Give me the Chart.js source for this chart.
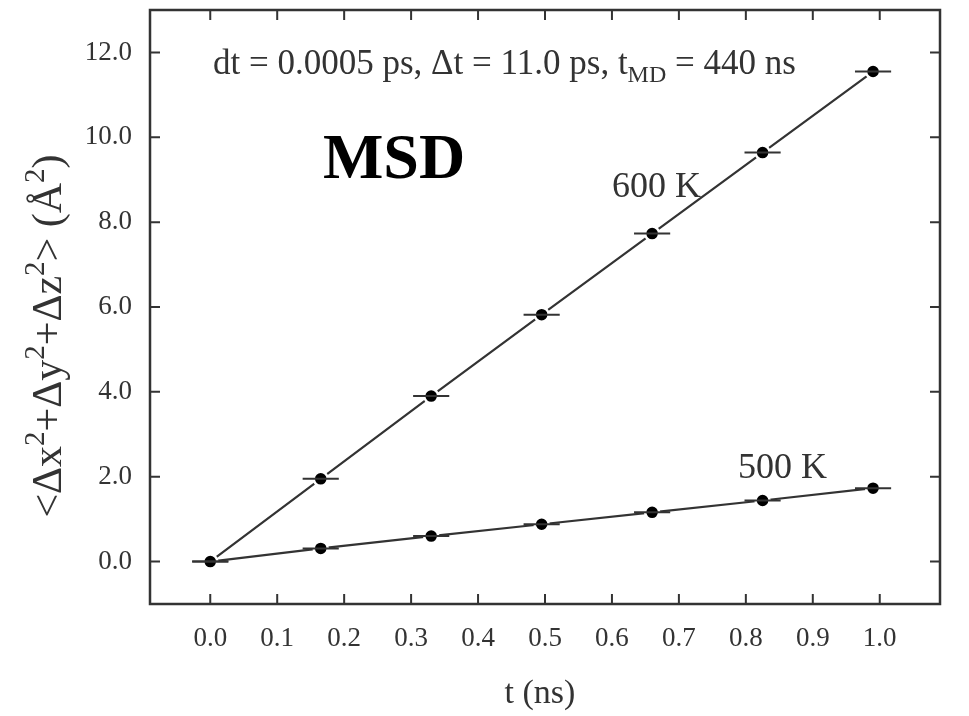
<!DOCTYPE html>
<html>
<head>
<meta charset="utf-8">
<script src="https://cdn.jsdelivr.net/npm/chart.js@4"></script>
<style>
  html, body { margin: 0; padding: 0; background: #fff; }
  #wrap { width: 969px; height: 716px; }
</style>
</head>
<body>
<div id="wrap"><canvas id="msd"></canvas></div>
<script>
// data
const times = [0, 0.165, 0.33, 0.495, 0.66, 0.825, 0.99];
const msd600 = [0, 1.95, 3.90, 5.82, 7.73, 9.64, 11.55];
const msd500 = [0, 0.31, 0.60, 0.88, 1.16, 1.44, 1.73];
const timeErr = 0.027;
const xTicks = [0, 0.1, 0.2, 0.3, 0.4, 0.5, 0.6, 0.7, 0.8, 0.9, 1.0];
const yTicks = [0, 2, 4, 6, 8, 10, 12];

const ink = '#333';
const serif = '"Liberation Serif", "DejaVu Serif", serif';

function pts(ys) {
  return times.map((t, i) => ({ x: t, y: ys[i] }));
}

// draws text pieces with super/subscripts starting at x (baseline y)
function drawRich(ctx, parts, x, y, size, align) {
  const small = Math.round(size * 0.68);
  const widths = parts.map(p => {
    ctx.font = (p.s ? small : size) + 'px ' + serif;
    return ctx.measureText(p.t).width;
  });
  const total = widths.reduce((a, b) => a + b, 0);
  let cx = align === 'center' ? x - total / 2 : x;
  ctx.textAlign = 'left';
  ctx.textBaseline = 'alphabetic';
  parts.forEach((p, i) => {
    ctx.font = (p.s ? small : size) + 'px ' + serif;
    let dy = 0;
    if (p.s === 'up') dy = -size * 0.4;
    if (p.s === 'down') dy = size * 0.22;
    ctx.fillText(p.t, cx, y + dy);
    cx += widths[i];
  });
}

const framePlugin = {
  id: 'frame',
  afterDatasetsDraw(chart) {
    const { ctx, scales: { x, y } } = chart;
    ctx.save();
    // horizontal error bars
    ctx.strokeStyle = ink;
    ctx.lineWidth = 2;
    [msd600, msd500].forEach(ys => {
      times.forEach((t, i) => {
        const py = y.getPixelForValue(ys[i]);
        ctx.beginPath();
        ctx.moveTo(x.getPixelForValue(t - timeErr), py);
        ctx.lineTo(x.getPixelForValue(t + timeErr), py);
        ctx.stroke();
      });
    });
    ctx.restore();
  },
  afterDraw(chart) {
    const { ctx, chartArea: a, scales: { x, y } } = chart;
    ctx.save();
    ctx.strokeStyle = ink;
    ctx.lineWidth = 2.5;
    ctx.strokeRect(a.left, a.top, a.right - a.left, a.bottom - a.top);
    // inward ticks on all four sides
    ctx.lineWidth = 2;
    const len = 10;
    xTicks.forEach(v => {
      const px = x.getPixelForValue(v);
      ctx.beginPath();
      ctx.moveTo(px, a.bottom); ctx.lineTo(px, a.bottom - len);
      ctx.moveTo(px, a.top); ctx.lineTo(px, a.top + len);
      ctx.stroke();
    });
    yTicks.forEach(v => {
      const py = y.getPixelForValue(v);
      ctx.beginPath();
      ctx.moveTo(a.left, py); ctx.lineTo(a.left + len, py);
      ctx.moveTo(a.right, py); ctx.lineTo(a.right - len, py);
      ctx.stroke();
    });

    ctx.fillStyle = ink;
    // axis titles
    ctx.font = '34px ' + serif;
    ctx.textAlign = 'center';
    ctx.textBaseline = 'alphabetic';
    ctx.fillText('t (ns)', (a.left + a.right) / 2 - 5, 703);

    ctx.save();
    ctx.translate(61, 336);
    ctx.rotate(-Math.PI / 2);
    drawRich(ctx, [
      { t: '<Δx' }, { t: '2', s: 'up' }, { t: '+Δy' }, { t: '2', s: 'up' },
      { t: '+Δz' }, { t: '2', s: 'up' }, { t: '> (Å' }, { t: '2', s: 'up' }, { t: ')' }
    ], 0, 0, 42, 'center');
    ctx.restore();

    // annotations
    drawRich(ctx, [
      { t: 'dt = 0.0005 ps, Δt = 11.0 ps, t' }, { t: 'MD', s: 'down' }, { t: ' = 440 ns' }
    ], 213, 74, 35, 'left');

    ctx.font = '36px ' + serif;
    ctx.textAlign = 'left';
    ctx.fillText('600 K', 612, 197);
    ctx.fillText('500 K', 738, 478);

    ctx.fillStyle = '#000';
    ctx.font = 'bold 64px ' + serif;
    ctx.textAlign = 'center';
    ctx.fillText('MSD', 394, 178);
    ctx.restore();
  }
};

const lineStyle = {
  showLine: true,
  borderColor: ink,
  borderWidth: 2.2,
  pointRadius: 7,
  pointBackgroundColor: '#000',
  pointBorderColor: '#fff',
  pointBorderWidth: 2.5,
  tension: 0
};

new Chart(document.getElementById('msd'), {
  type: 'scatter',
  data: {
    datasets: [
      { label: '600 K', data: pts(msd600), ...lineStyle },
      { label: '500 K', data: pts(msd500), ...lineStyle }
    ]
  },
  options: {
    responsive: true,
    maintainAspectRatio: false,
    animation: false,
    layout: { padding: { top: 10, right: 29, bottom: 0, left: 0 } },
    plugins: { legend: { display: false }, tooltip: { enabled: false } },
    scales: {
      x: {
        type: 'linear',
        min: -0.09,
        max: 1.09,
        afterBuildTicks: s => { s.ticks = xTicks.map(v => ({ value: v })); },
        afterFit: s => { s.height = 112; s.paddingLeft = 0; s.paddingRight = 0; },
        grid: { display: false, drawTicks: false },
        border: { display: false },
        ticks: {
          padding: 19,
          color: ink,
          font: { family: serif, size: 27 },
          callback: v => v.toFixed(1)
        }
      },
      y: {
        type: 'linear',
        min: -1,
        max: 13,
        afterBuildTicks: s => { s.ticks = yTicks.map(v => ({ value: v })); },
        afterFit: s => { s.width = 150; s.paddingTop = 0; s.paddingBottom = 0; },
        grid: { display: false, drawTicks: false },
        border: { display: false },
        ticks: {
          padding: 18,
          color: ink,
          font: { family: serif, size: 27 },
          callback: v => v.toFixed(1)
        }
      }
    }
  },
  plugins: [framePlugin]
});
</script>
</body>
</html>
